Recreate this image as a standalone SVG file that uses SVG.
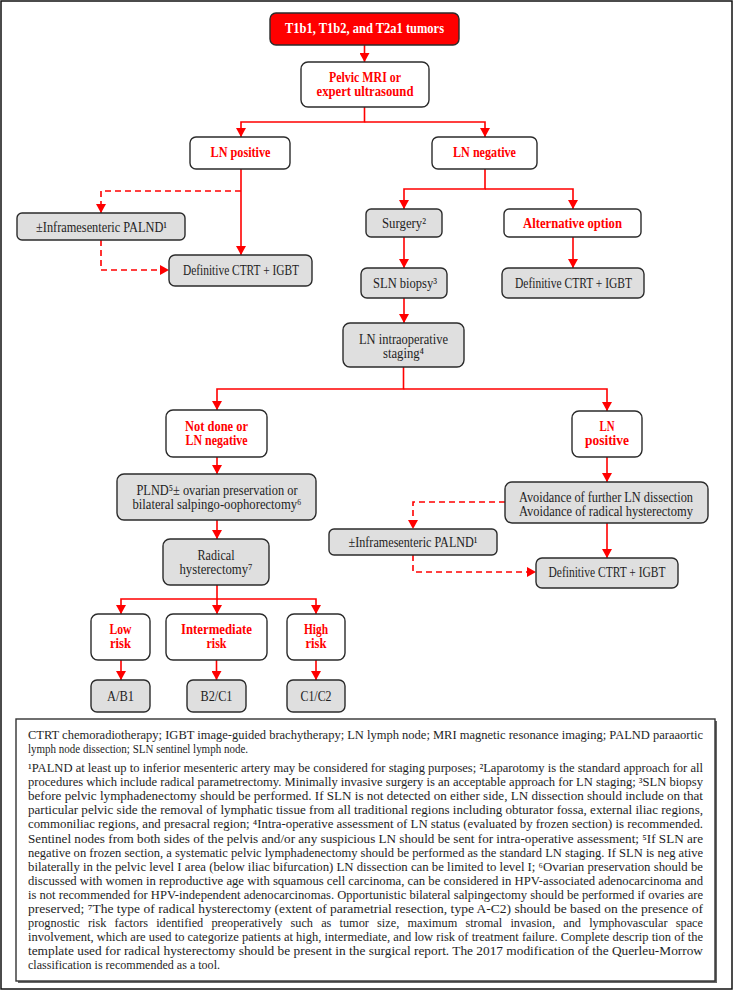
<svg xmlns="http://www.w3.org/2000/svg" width="733" height="991" viewBox="0 0 733 991">
<style>
.n rect{stroke:#2b2b2b;stroke-width:1.4}
.w{fill:#fff}
.g{fill:#dfdfdf}
.rt{font-family:"Liberation Serif","DejaVu Serif",serif;font-size:14px;font-weight:bold;fill:#ff0000;text-anchor:middle}
.bt{font-family:"Liberation Serif","DejaVu Serif",serif;font-size:14px;fill:#1e1e1e;text-anchor:middle}
.c{stroke:#ff0000;stroke-width:1.6;fill:none;marker-end:url(#ah)}
.d{stroke-dasharray:6 4}
.ft{font-family:"Liberation Serif","DejaVu Serif",serif;font-size:12px;fill:#1e1e1e}
</style>
<defs>
<marker id="ah" markerUnits="userSpaceOnUse" markerWidth="9" markerHeight="10" refX="9" refY="5" orient="auto">
<path d="M0,0 L9,5 L0,10 z" fill="#ff0000"/>
</marker>
</defs>
<rect x="1" y="1" width="731" height="988" fill="#fff" stroke="#111" stroke-width="1.5"/>

<g id="connectors">
<path class="c" d="M364.5,45 V62"/>
<path class="c" d="M364.5,107 V122 H241 V137"/>
<path class="c" d="M364.5,122 H485 V137"/>
<path class="c" d="M241,169 V255"/>
<path class="c d" d="M241,191 H101 V213"/>
<path class="c d" d="M101,240 V270 H169"/>
<path class="c" d="M485,169 V189 H404 V209"/>
<path class="c" d="M485,189 H573 V209"/>
<path class="c" d="M404,237 V268"/>
<path class="c" d="M573,237 V268"/>
<path class="c" d="M404,298 V323"/>
<path class="c" d="M403.5,367 V389 H217 V410"/>
<path class="c" d="M403.5,389 H607 V411"/>
<path class="c" d="M217,457 V474"/>
<path class="c" d="M607,457 V482"/>
<path class="c d" d="M505,502 H413 V529"/>
<path class="c d" d="M413,555 V572 H536"/>
<path class="c" d="M607,523 V558"/>
<path class="c" d="M217,520 V539"/>
<path class="c" d="M217,585 V599 H121 V614"/>
<path class="c" d="M217,599 H316 V614"/>
<path class="c" d="M217,599 V614"/>
<path class="c" d="M121,660 V680"/>
<path class="c" d="M216.5,660 V680"/>
<path class="c" d="M316,660 V680"/>
</g>

<g id="n-top" class="n"><rect x="270" y="13" width="189" height="32" rx="6" fill="#ff0000" stroke="#ff0000"/><text class="rt" x="364.5" y="33" textLength="159" lengthAdjust="spacingAndGlyphs" style="fill:#fff;font-size:15px">T1b1, T1b2, and T2a1 tumors</text></g>
<g id="n-mri" class="n"><rect class="w" x="301" y="62" width="128" height="45" rx="7"/><text class="rt" x="365" y="82" textLength="72" lengthAdjust="spacingAndGlyphs">Pelvic MRI or</text><text class="rt" x="365" y="96" textLength="97" lengthAdjust="spacingAndGlyphs">expert ultrasound</text></g>
<g id="n-lnpos" class="n"><rect class="w" x="190" y="137" width="100" height="32" rx="6"/><text class="rt" x="240.5" y="157" textLength="60" lengthAdjust="spacingAndGlyphs" style="font-size:15px">LN positive</text></g>
<g id="n-lnneg" class="n"><rect class="w" x="432" y="137" width="105" height="32" rx="6"/><text class="rt" x="484.5" y="157" textLength="63" lengthAdjust="spacingAndGlyphs" style="font-size:15px">LN negative</text></g>
<g id="n-palnd1" class="n"><rect class="g" x="17" y="213" width="168" height="27" rx="5"/><text class="bt" x="101.5" y="232" textLength="131" lengthAdjust="spacingAndGlyphs" style="font-size:15px">±Inframesenteric PALND¹</text></g>
<g id="n-ctrt1" class="n"><rect class="g" x="169" y="255" width="143" height="31" rx="6"/><text class="bt" x="241" y="275" textLength="116" lengthAdjust="spacingAndGlyphs" style="font-size:15px">Definitive CTRT + IGBT</text></g>
<g id="n-surgery" class="n"><rect class="g" x="366" y="209" width="76" height="28" rx="5"/><text class="bt" x="404" y="228" textLength="44" lengthAdjust="spacingAndGlyphs" style="font-size:15px">Surgery²</text></g>
<g id="n-alt" class="n"><rect class="w" x="504" y="209" width="137" height="28" rx="5"/><text class="rt" x="572.5" y="228" textLength="99" lengthAdjust="spacingAndGlyphs" style="font-size:15px">Alternative option</text></g>
<g id="n-sln" class="n"><rect class="g" x="361" y="268" width="86" height="30" rx="6"/><text class="bt" x="405" y="288" textLength="64" lengthAdjust="spacingAndGlyphs" style="font-size:15px">SLN biopsy³</text></g>
<g id="n-ctrt2" class="n"><rect class="g" x="502" y="268" width="142" height="30" rx="6"/><text class="bt" x="573.5" y="288" textLength="117" lengthAdjust="spacingAndGlyphs" style="font-size:15px">Definitive CTRT + IGBT</text></g>
<g id="n-intraop" class="n"><rect class="g" x="343" y="323" width="121" height="44" rx="7"/><text class="bt" x="403.5" y="344" textLength="89" lengthAdjust="spacingAndGlyphs">LN intraoperative</text><text class="bt" x="403.5" y="358" textLength="41" lengthAdjust="spacingAndGlyphs">staging⁴</text></g>
<g id="n-notdone" class="n"><rect class="w" x="166" y="410" width="101" height="47" rx="7"/><text class="rt" x="216.5" y="431" textLength="63" lengthAdjust="spacingAndGlyphs">Not done or</text><text class="rt" x="216.5" y="445" textLength="62" lengthAdjust="spacingAndGlyphs">LN negative</text></g>
<g id="n-lnpos2" class="n"><rect class="w" x="572" y="411" width="70" height="46" rx="7"/><text class="rt" x="607" y="431" textLength="15" lengthAdjust="spacingAndGlyphs">LN</text><text class="rt" x="607" y="445" textLength="44" lengthAdjust="spacingAndGlyphs">positive</text></g>
<g id="n-plnd" class="n"><rect class="g" x="117" y="474" width="199" height="46" rx="7"/><text class="bt" x="217" y="495" textLength="161" lengthAdjust="spacingAndGlyphs">PLND⁵± ovarian preservation or</text><text class="bt" x="217" y="509" textLength="169" lengthAdjust="spacingAndGlyphs">bilateral salpingo-oophorectomy⁶</text></g>
<g id="n-avoid" class="n"><rect class="g" x="505" y="482" width="203" height="41" rx="7"/><text class="bt" x="606" y="502" textLength="174" lengthAdjust="spacingAndGlyphs">Avoidance of further LN dissection</text><text class="bt" x="606" y="516" textLength="174" lengthAdjust="spacingAndGlyphs">Avoidance of radical hysterectomy</text></g>
<g id="n-palnd2" class="n"><rect class="g" x="329" y="529" width="168" height="26" rx="5"/><text class="bt" x="413" y="547" textLength="129" lengthAdjust="spacingAndGlyphs" style="font-size:15px">±Inframesenteric PALND¹</text></g>
<g id="n-ctrt3" class="n"><rect class="g" x="536" y="558" width="142" height="30" rx="6"/><text class="bt" x="607" y="577" textLength="117" lengthAdjust="spacingAndGlyphs" style="font-size:15px">Definitive CTRT + IGBT</text></g>
<g id="n-radical" class="n"><rect class="g" x="163" y="539" width="106" height="46" rx="7"/><text class="bt" x="216" y="560" textLength="37" lengthAdjust="spacingAndGlyphs">Radical</text><text class="bt" x="216" y="574" textLength="73" lengthAdjust="spacingAndGlyphs">hysterectomy⁷</text></g>
<g id="n-low" class="n"><rect class="w" x="91" y="614" width="59" height="46" rx="7"/><text class="rt" x="120.5" y="634" textLength="22" lengthAdjust="spacingAndGlyphs">Low</text><text class="rt" x="120.5" y="648" textLength="21" lengthAdjust="spacingAndGlyphs">risk</text></g>
<g id="n-inter" class="n"><rect class="w" x="166" y="614" width="101" height="46" rx="7"/><text class="rt" x="216.5" y="634" textLength="71" lengthAdjust="spacingAndGlyphs">Intermediate</text><text class="rt" x="216.5" y="648" textLength="20" lengthAdjust="spacingAndGlyphs">risk</text></g>
<g id="n-high" class="n"><rect class="w" x="287" y="614" width="58" height="46" rx="7"/><text class="rt" x="316" y="634" textLength="24" lengthAdjust="spacingAndGlyphs">High</text><text class="rt" x="316" y="648" textLength="21" lengthAdjust="spacingAndGlyphs">risk</text></g>
<g id="n-ab1" class="n"><rect class="g" x="91" y="680" width="59" height="32" rx="6"/><text class="bt" x="120.5" y="701" textLength="27" lengthAdjust="spacingAndGlyphs" style="font-size:15px">A/B1</text></g>
<g id="n-b2c1" class="n"><rect class="g" x="187" y="680" width="59" height="32" rx="6"/><text class="bt" x="216.5" y="701" textLength="32" lengthAdjust="spacingAndGlyphs" style="font-size:15px">B2/C1</text></g>
<g id="n-c1c2" class="n"><rect class="g" x="287" y="680" width="58" height="32" rx="6"/><text class="bt" x="316" y="701" textLength="31" lengthAdjust="spacingAndGlyphs" style="font-size:15px">C1/C2</text></g>

<g id="footnotes">
<rect x="18" y="721" width="699" height="262" fill="#666"/>
<rect x="16" y="719" width="699" height="262" fill="#fff" stroke="#333" stroke-width="1.4"/>
<text class="ft" x="28" y="739" textLength="675" lengthAdjust="spacingAndGlyphs">CTRT chemoradiotherapy; IGBT image-guided brachytherapy; LN lymph node; MRI magnetic resonance imaging; PALND paraaortic</text>
<text class="ft" x="28" y="753" textLength="220" lengthAdjust="spacingAndGlyphs">lymph node dissection; SLN sentinel lymph node.</text>
<text class="ft" x="28" y="772" textLength="675" lengthAdjust="spacingAndGlyphs">¹PALND at least up to inferior mesenteric artery may be considered for staging purposes; ²Laparotomy is the standard approach for all</text>
<text class="ft" x="28" y="786.1" textLength="675" lengthAdjust="spacingAndGlyphs">procedures which include radical parametrectomy. Minimally invasive surgery is an acceptable approach for LN staging; ³SLN biopsy</text>
<text class="ft" x="28" y="800.2" textLength="675" lengthAdjust="spacingAndGlyphs">before pelvic lymphadenectomy should be performed. If SLN is not detected on either side, LN dissection should include on that</text>
<text class="ft" x="28" y="814.3" textLength="675" lengthAdjust="spacingAndGlyphs">particular pelvic side the removal of lymphatic tissue from all traditional regions including obturator fossa, external iliac regions,</text>
<text class="ft" x="28" y="828.4" textLength="675" lengthAdjust="spacingAndGlyphs">commoniliac regions, and presacral region; ⁴Intra-operative assessment of LN status (evaluated by frozen section) is recommended.</text>
<text class="ft" x="28" y="842.5" textLength="675" lengthAdjust="spacingAndGlyphs">Sentinel nodes from both sides of the pelvis and/or any suspicious LN should be sent for intra-operative assessment; ⁵If SLN are</text>
<text class="ft" x="28" y="856.6" textLength="675" lengthAdjust="spacingAndGlyphs">negative on frozen section, a systematic pelvic lymphadenectomy should be performed as the standard LN staging. If SLN is neg ative</text>
<text class="ft" x="28" y="870.7" textLength="675" lengthAdjust="spacingAndGlyphs">bilaterally in the pelvic level I area (below iliac bifurcation) LN dissection can be limited to level I; ⁶Ovarian preservation should be</text>
<text class="ft" x="28" y="884.8" textLength="675" lengthAdjust="spacingAndGlyphs">discussed with women in reproductive age with squamous cell carcinoma, can be considered in HPV-associated adenocarcinoma and</text>
<text class="ft" x="28" y="898.9" textLength="675" lengthAdjust="spacingAndGlyphs">is not recommended for HPV-independent adenocarcinomas. Opportunistic bilateral salpingectomy should be performed if ovaries are</text>
<text class="ft" x="28" y="913" textLength="675" lengthAdjust="spacingAndGlyphs">preserved; ⁷The type of radical hysterectomy (extent of parametrial resection, type A-C2) should be based on the presence of</text>
<text class="ft" x="28" y="927.1" textLength="675" lengthAdjust="spacingAndGlyphs" word-spacing="5">prognostic risk factors identified preoperatively such as tumor size, maximum stromal invasion, and lymphovascular space</text>
<text class="ft" x="28" y="941.2" textLength="675" lengthAdjust="spacingAndGlyphs">involvement, which are used to categorize patients at high, intermediate, and low risk of treatment failure. Complete descrip tion of the</text>
<text class="ft" x="28" y="955.3" textLength="675" lengthAdjust="spacingAndGlyphs">template used for radical hysterectomy should be present in the surgical report. The 2017 modification of the Querleu-Morrow</text>
<text class="ft" x="28" y="969.4" textLength="192" lengthAdjust="spacingAndGlyphs">classification is recommended as a tool.</text>
</g>
</svg>
